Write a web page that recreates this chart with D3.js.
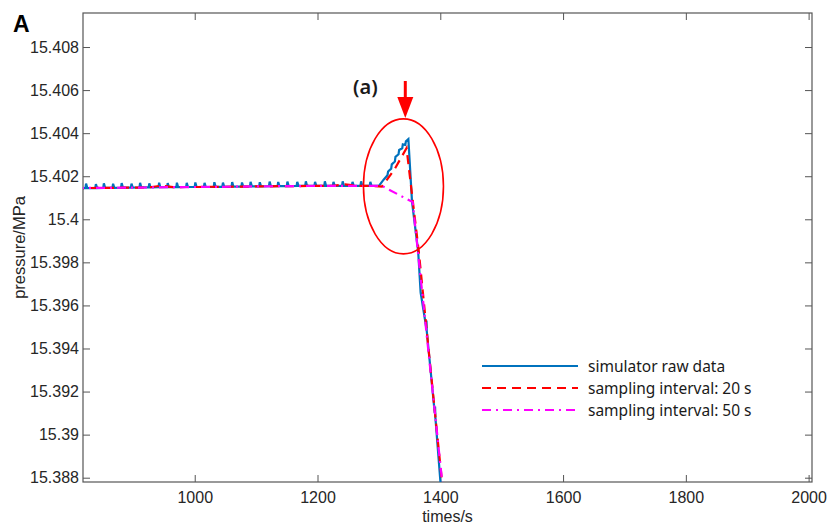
<!DOCTYPE html>
<html>
<head>
<meta charset="utf-8">
<script src="https://cdn.jsdelivr.net/npm/d3@7"></script>
<style>
  body { margin: 0; background: #fff; }
</style>
</head>
<body>
<svg id="chart" width="829" height="530"></svg>
<script>
// x ticks and y ticks as printed on the axes
const xTicks = [1000, 1200, 1400, 1600, 1800, 2000];
const yTicks = [15.388, 15.39, 15.392, 15.394, 15.396, 15.398, 15.4, 15.402, 15.404, 15.406, 15.408];

// simulator raw data: time (s)
const rawTime = [
  812, 822, 823, 825, 838, 839, 841, 851, 852, 854, 866, 867, 869, 880, 881, 883,
  896, 897, 899, 910, 911, 913, 925, 926, 928, 941, 942, 944, 955, 956, 958,
  970, 971, 973, 986, 987, 989, 1000, 1001, 1003, 1015, 1016, 1018, 1031, 1032, 1034,
  1045, 1046, 1048, 1060, 1061, 1063, 1076, 1077, 1079, 1090, 1091, 1093,
  1105, 1106, 1108, 1121, 1122, 1124, 1135, 1136, 1138, 1150, 1151, 1153,
  1166, 1167, 1169, 1180, 1181, 1183, 1195, 1196, 1198, 1211, 1212, 1214,
  1225, 1226, 1228, 1240, 1241, 1243, 1256, 1257, 1259, 1270, 1271, 1273,
  1285, 1286, 1288, 1300,
  1308, 1314, 1315, 1320, 1321, 1326, 1327, 1332, 1333, 1338, 1339, 1343, 1344, 1348,
  1354, 1364, 1368, 1377, 1377.5, 1378, 1391, 1391.5, 1392, 1400, 1406
];
// simulator raw data: pressure (MPa)
const rawPressure = [
  15.40145, 15.40145, 15.40166, 15.40145, 15.40145, 15.40163, 15.40145, 15.40146, 15.40167, 15.40146,
  15.40146, 15.40165, 15.40146, 15.40147, 15.40168, 15.40147,
  15.40147, 15.40166, 15.40147, 15.40148, 15.40169, 15.40148, 15.40148, 15.40167, 15.40148,
  15.40149, 15.40170, 15.40149, 15.40149, 15.40168, 15.40149,
  15.40149, 15.40170, 15.40149, 15.40150, 15.40169, 15.40150, 15.40150, 15.40171, 15.40150,
  15.40150, 15.40169, 15.40150, 15.40151, 15.40172, 15.40151,
  15.40151, 15.40170, 15.40151, 15.40152, 15.40173, 15.40152, 15.40152, 15.40171, 15.40152,
  15.40153, 15.40174, 15.40153,
  15.40153, 15.40172, 15.40153, 15.40154, 15.40175, 15.40154, 15.40154, 15.40173, 15.40154,
  15.40154, 15.40175, 15.40154,
  15.40155, 15.40174, 15.40155, 15.40155, 15.40176, 15.40155, 15.40155, 15.40174, 15.40155,
  15.40155, 15.40176, 15.40155,
  15.40155, 15.40174, 15.40155, 15.40155, 15.40176, 15.40155, 15.40155, 15.40174, 15.40155,
  15.40155, 15.40176, 15.40155,
  15.40155, 15.40174, 15.40155, 15.40155,
  15.40185, 15.40205, 15.40222, 15.40235, 15.40255, 15.40268, 15.40290, 15.40302, 15.40322,
  15.40330, 15.40348, 15.40345, 15.40362, 15.40372,
  15.40080, 15.39850, 15.39660, 15.39500, 15.39530, 15.39480, 15.39100, 15.39130, 15.39080, 15.38790, 15.38600
];

// sampling interval 20 s
const s20Time = [
  805, 825, 845, 865, 885, 905, 925, 945, 965, 985, 1005, 1025, 1045, 1065, 1085,
  1105, 1125, 1145, 1165, 1185, 1205, 1225, 1245, 1265, 1285, 1305, 1325, 1345,
  1365, 1385, 1405
];
const s20Pressure = [
  15.40145, 15.40145, 15.40146, 15.40146, 15.40147, 15.40147, 15.40148, 15.40156, 15.40149, 15.40150,
  15.40150, 15.40151, 15.40151, 15.40152, 15.40152,
  15.40153, 15.40153, 15.40154, 15.40154, 15.40155, 15.40155, 15.40155, 15.40162, 15.40155, 15.40155,
  15.40152, 15.40230, 15.40330,
  15.39850, 15.39280, 15.38720
];

// sampling interval 50 s
const s50Time = [805, 855, 905, 955, 1005, 1055, 1105, 1155, 1205, 1255, 1305, 1355, 1405];
const s50Pressure = [
  15.40145, 15.40146, 15.40147, 15.40149, 15.40150, 15.40151, 15.40153, 15.40154, 15.40155, 15.40155,
  15.40155, 15.40080, 15.38730
];

const seriesNames = ['simulator raw data', 'sampling interval: 20 s', 'sampling interval: 50 s'];

const axisFont = '"Liberation Sans", Arial, sans-serif';
const noteFont = '"Noto Sans", "Open Sans", sans-serif';

const svg = d3.select('#chart');
const margin = {left: 83, top: 13, right: 829 - 812, bottom: 530 - 482};
const width = 829 - margin.left - margin.right;
const height = 530 - margin.top - margin.bottom;

const x = d3.scaleLinear().domain([818, 2005.5]).range([0, width]);
const y = d3.scaleLinear().domain([15.3878, 15.40958]).range([height, 0]);

const g = svg.append('g')
  .attr('transform', `translate(${margin.left},${margin.top})`);

g.append('clipPath').attr('id', 'plotclip')
  .append('rect').attr('width', width).attr('height', height);

// axes, ticks inside, mirrored on top/right
const axisColor = '#555';
function styleAxis(sel, showText) {
  sel.attr('font-family', null).attr('font-size', null);
  sel.select('.domain').remove();
  sel.selectAll('line').attr('stroke', axisColor).attr('stroke-width', 1);
  sel.selectAll('text')
    .style('font-family', axisFont)
    .style('font-size', '16px')
    .attr('fill', '#262626')
    .style('display', showText ? null : 'none');
}

g.append('g')
  .attr('transform', `translate(0,${height})`)
  .call(d3.axisBottom(x).tickValues(xTicks).tickSizeInner(-7).tickSizeOuter(0).tickPadding(10).tickFormat(d3.format('d')))
  .call(s => styleAxis(s, true));
g.append('g')
  .call(d3.axisTop(x).tickValues(xTicks).tickSizeInner(-7).tickSizeOuter(0))
  .call(s => styleAxis(s, false));
g.append('g')
  .call(d3.axisLeft(y).tickValues(yTicks).tickSizeInner(-7).tickSizeOuter(0).tickPadding(4).tickFormat(d => +d.toFixed(3) + ''))
  .call(s => styleAxis(s, true));
g.append('g')
  .attr('transform', `translate(${width},0)`)
  .call(d3.axisRight(y).tickValues(yTicks).tickSizeInner(-7).tickSizeOuter(0))
  .call(s => styleAxis(s, false));

g.append('rect')
  .attr('width', width).attr('height', height)
  .attr('fill', 'none').attr('stroke', axisColor).attr('stroke-width', 1.2);

// data lines
const line = d3.line().x(d => x(d[0])).y(d => y(d[1]));
const plot = g.append('g').attr('clip-path', 'url(#plotclip)');

const series = [
  {t: rawTime, p: rawPressure, color: '#0072BD', dash: null},
  {t: s20Time, p: s20Pressure, color: '#FF0000', dash: '9,6'},
  {t: s50Time, p: s50Pressure, color: '#FF00FF', dash: '9,5,2,5'}
];

plot.selectAll('path.series')
  .data(series)
  .join('path')
    .attr('class', 'series')
    .attr('d', s => line(s.t.map((t, i) => [t, s.p[i]])))
    .attr('fill', 'none')
    .attr('stroke', s => s.color)
    .attr('stroke-width', 2.2)
    .attr('stroke-dasharray', s => s.dash);

// red ellipse + arrow annotation
g.append('ellipse')
  .attr('cx', x(1340)).attr('cy', y(15.40153))
  .attr('rx', 40).attr('ry', 67.5)
  .attr('fill', 'none').attr('stroke', '#FF0000').attr('stroke-width', 1.6);

const ax = x(1343);
g.append('line')
  .attr('x1', ax).attr('x2', ax)
  .attr('y1', 68).attr('y2', 88)
  .attr('stroke', '#FF0000').attr('stroke-width', 3);
g.append('path')
  .attr('d', `M${ax - 8},84 L${ax + 8},84 L${ax},105 Z`)
  .attr('fill', '#FF0000');

svg.append('text')
  .attr('x', 353).attr('y', 94)
  .style('font-family', noteFont)
  .style('font-size', '20px')
  .style('font-weight', '600')
  .attr('fill', '#1a1a1a')
  .text('(a)');

// axis labels
svg.append('text')
  .attr('x', margin.left + width / 2).attr('y', 522)
  .attr('text-anchor', 'middle')
  .style('font-family', axisFont)
  .style('font-size', '16px')
  .attr('fill', '#262626')
  .text('times/s');

svg.append('text')
  .attr('transform', `translate(25,${margin.top + height / 2}) rotate(-90)`)
  .attr('text-anchor', 'middle')
  .style('font-family', axisFont)
  .style('font-size', '16.5px')
  .attr('fill', '#262626')
  .text('pressure/MPa');

svg.append('text')
  .attr('x', 13).attr('y', 32)
  .style('font-family', axisFont)
  .style('font-size', '23px')
  .style('font-weight', 'bold')
  .attr('fill', '#000')
  .text('A');

// legend
const legend = svg.append('g')
  .attr('transform', 'translate(482,366)');
const rows = legend.selectAll('g')
  .data(series.map((s, i) => ({...s, name: seriesNames[i]})))
  .join('g')
    .attr('transform', (d, i) => `translate(0,${i * 22})`);
rows.append('line')
  .attr('x1', 0).attr('x2', 96)
  .attr('stroke', d => d.color)
  .attr('stroke-width', 2.2)
  .attr('stroke-dasharray', d => d.dash);
rows.append('text')
  .attr('x', 106).attr('y', 6)
  .style('font-family', noteFont)
  .style('font-size', '15.5px')
  .attr('fill', '#1a1a1a')
  .text(d => d.name);
</script>
</body>
</html>
